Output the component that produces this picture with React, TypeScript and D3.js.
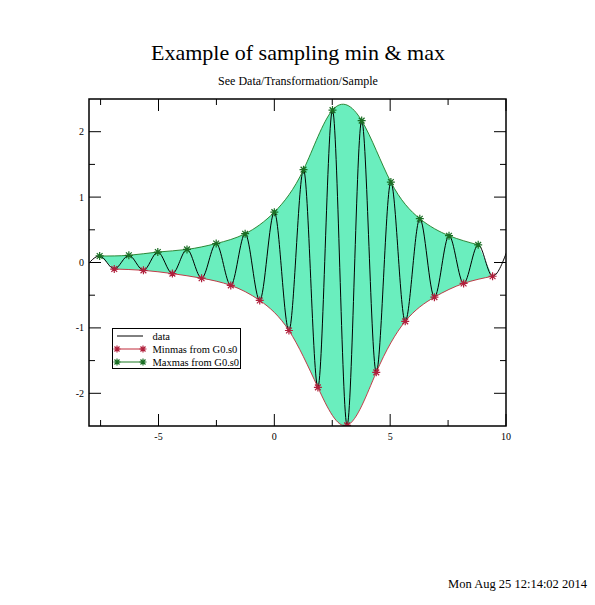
import React from 'react';
import * as d3 from 'd3';

const dataX = [-8.17, -7.54, -6.91, -6.28, -5.65, -5.03, -4.40, -3.77, -3.14, -2.51, -1.88, -1.26, -0.63, 0.00, 0.63, 1.26, 1.88, 2.51, 3.14, 3.77, 4.40, 5.03, 5.65, 6.28, 6.91, 7.54, 8.17, 8.80, 9.42, 10.05];
const dataY = [-0.08, 0.10, -0.10, 0.11, -0.12, 0.16, -0.17, 0.20, -0.24, 0.29, -0.35, 0.44, -0.58, 0.77, -1.04, 1.42, -1.91, 2.33, -2.49, 2.17, -1.68, 1.23, -0.90, 0.67, -0.53, 0.41, -0.32, 0.27, -0.21, 0.18];

const maxX = [-7.54, -6.28, -5.03, -3.77, -2.51, -1.26, 0.00, 1.26, 2.51, 3.77, 5.03, 6.28, 7.54, 8.80];
const maxY = [0.10, 0.11, 0.16, 0.20, 0.29, 0.44, 0.77, 1.42, 2.33, 2.17, 1.23, 0.67, 0.41, 0.27];

const minX = [-6.91, -5.65, -4.40, -3.14, -1.88, -0.63, 0.63, 1.88, 3.14, 4.40, 5.65, 6.91, 8.17, 9.42];
const minY = [-0.10, -0.12, -0.17, -0.24, -0.35, -0.58, -1.04, -1.91, -2.49, -1.68, -0.90, -0.53, -0.32, -0.21];

const xTicks = [-5, 0, 5, 10];
const xMinorTicks = [-7.5, -2.5, 2.5, 7.5];
const yTicks = [-2, -1, 0, 1, 2];
const yMinorTicks = [-1.5, -0.5, 0.5, 1.5];

const title = 'Example of sampling min & max';
const subtitle = 'See Data/Transformation/Sample';
const timestamp = 'Mon Aug 25 12:14:02 2014';
const legendLabels = ['data', 'Minmas from G0.s0', 'Maxmas from G0.s0'];

const W = 595, H = 605;
const L = 89, R = 506, T = 99, B = 426;
const FONT = "'Liberation Serif', 'Times New Roman', serif";
const FILL = '#6aeebe';
const MIN_COLOR = '#c02838';
const MIN_MARK = '#b0203c';
const MAX_COLOR = '#1f7a25';
const MAX_MARK = '#1a6e24';

function starPath(cx: number, cy: number, r: number) {
  const d = r * 0.72;
  return `M${cx - r},${cy}L${cx + r},${cy}M${cx},${cy - r}L${cx},${cy + r}` +
    `M${cx - d},${cy - d}L${cx + d},${cy + d}M${cx - d},${cy + d}L${cx + d},${cy - d}`;
}

export default function App() {
  const x = d3.scaleLinear().domain([-8, 10]).range([L, R]);
  const y = d3.scaleLinear().domain([-2.5, 2.5]).range([B, T]);
  const pts = (xs: number[], ys: number[]) => xs.map((v, i) => [v, ys[i]] as [number, number]);

  const dataLine = d3.line<[number, number]>().x(d => x(d[0])).y(d => y(d[1])).curve(d3.curveMonotoneX);
  const envLine = d3.line<[number, number]>().x(d => x(d[0])).y(d => y(d[1])).curve(d3.curveNatural);

  const dataPts = pts(dataX, dataY);
  const maxPts = pts(maxX, maxY);
  const minPts = pts(minX, minY);
  const fillPath = (envLine(maxPts) || '') + (envLine([...minPts].reverse()) || '').replace(/^M/, 'L') + 'Z';

  const major = 12, minor = 6;

  const legX = 112.5, legY = 328.5, legW = 128, legH = 40;
  const rowY = [336, 349, 362];

  return (
    <svg width={W} height={H} style={{ position: 'absolute', left: 0, top: 0, background: '#fff' }} fontFamily={FONT}>
      <rect x={0} y={0} width={W} height={H} fill="#fff" />
      <text x={298} y={59.5} fontSize={22} textAnchor="middle" fill="#000">{title}</text>
      <text x={298} y={85} fontSize={12} textAnchor="middle" fill="#000">{subtitle}</text>

      <defs>
        <clipPath id="plotclip">
          <rect x={L} y={T} width={R - L} height={B - T} />
        </clipPath>
      </defs>

      <g clipPath="url(#plotclip)">
        <path d={fillPath} fill={FILL} stroke="none" />
        <path d={dataLine(dataPts) || ''} fill="none" stroke="#000" strokeWidth={1} />
        <path d={envLine(minPts) || ''} fill="none" stroke={MIN_COLOR} strokeWidth={0.9} />
        <path d={envLine(maxPts) || ''} fill="none" stroke={MAX_COLOR} strokeWidth={0.9} />
        {minPts.map((p, i) => (
          <path key={'mn' + i} d={starPath(x(p[0]), y(p[1]), 4)} stroke={MIN_MARK} strokeWidth={1.2} fill="none" />
        ))}
        {maxPts.map((p, i) => (
          <path key={'mx' + i} d={starPath(x(p[0]), y(p[1]), 4)} stroke={MAX_MARK} strokeWidth={1.2} fill="none" />
        ))}
      </g>

      <g stroke="#000" strokeWidth={1}>
        {xTicks.map(t => (
          <g key={'xt' + t}>
            <line x1={x(t)} x2={x(t)} y1={B} y2={B - major} />
            <line x1={x(t)} x2={x(t)} y1={T} y2={T + major} />
          </g>
        ))}
        {xMinorTicks.map(t => (
          <g key={'xm' + t}>
            <line x1={x(t)} x2={x(t)} y1={B} y2={B - minor} />
            <line x1={x(t)} x2={x(t)} y1={T} y2={T + minor} />
          </g>
        ))}
        {yTicks.map(t => (
          <g key={'yt' + t}>
            <line x1={L} x2={L + major} y1={y(t)} y2={y(t)} />
            <line x1={R} x2={R - major} y1={y(t)} y2={y(t)} />
          </g>
        ))}
        {yMinorTicks.map(t => (
          <g key={'ym' + t}>
            <line x1={L} x2={L + minor} y1={y(t)} y2={y(t)} />
            <line x1={R} x2={R - minor} y1={y(t)} y2={y(t)} />
          </g>
        ))}
      </g>

      <rect x={L} y={T} width={R - L} height={B - T} fill="none" stroke="#000" strokeWidth={1.5} />

      {xTicks.map(t => (
        <text key={'xl' + t} x={x(t)} y={440} fontSize={10} textAnchor="middle" fill="#000">{t}</text>
      ))}
      {yTicks.map(t => (
        <text key={'yl' + t} x={84} y={y(t) + 3.5} fontSize={10} textAnchor="end" fill="#000">{t}</text>
      ))}

      <rect x={legX} y={legY} width={legW} height={legH} fill="#fff" stroke="#000" strokeWidth={1} />
      <line x1={117} x2={143} y1={rowY[0]} y2={rowY[0]} stroke="#000" strokeWidth={1} />
      <line x1={117} x2={143} y1={rowY[1]} y2={rowY[1]} stroke={MIN_COLOR} strokeWidth={1} />
      <path d={starPath(117, rowY[1], 3.5)} stroke={MIN_MARK} strokeWidth={1.2} fill="none" />
      <path d={starPath(143, rowY[1], 3.5)} stroke={MIN_MARK} strokeWidth={1.2} fill="none" />
      <line x1={117} x2={143} y1={rowY[2]} y2={rowY[2]} stroke={MAX_COLOR} strokeWidth={1} />
      <path d={starPath(117, rowY[2], 3.5)} stroke={MAX_MARK} strokeWidth={1.2} fill="none" />
      <path d={starPath(143, rowY[2], 3.5)} stroke={MAX_MARK} strokeWidth={1.2} fill="none" />
      {legendLabels.map((s, i) => (
        <text key={'lg' + i} x={152.5} y={rowY[i] + 3.5} fontSize={10.5} fill="#000">{s}</text>
      ))}

      <text x={587} y={588} fontSize={12.5} textAnchor="end" fill="#000">{timestamp}</text>
    </svg>
  );
}
